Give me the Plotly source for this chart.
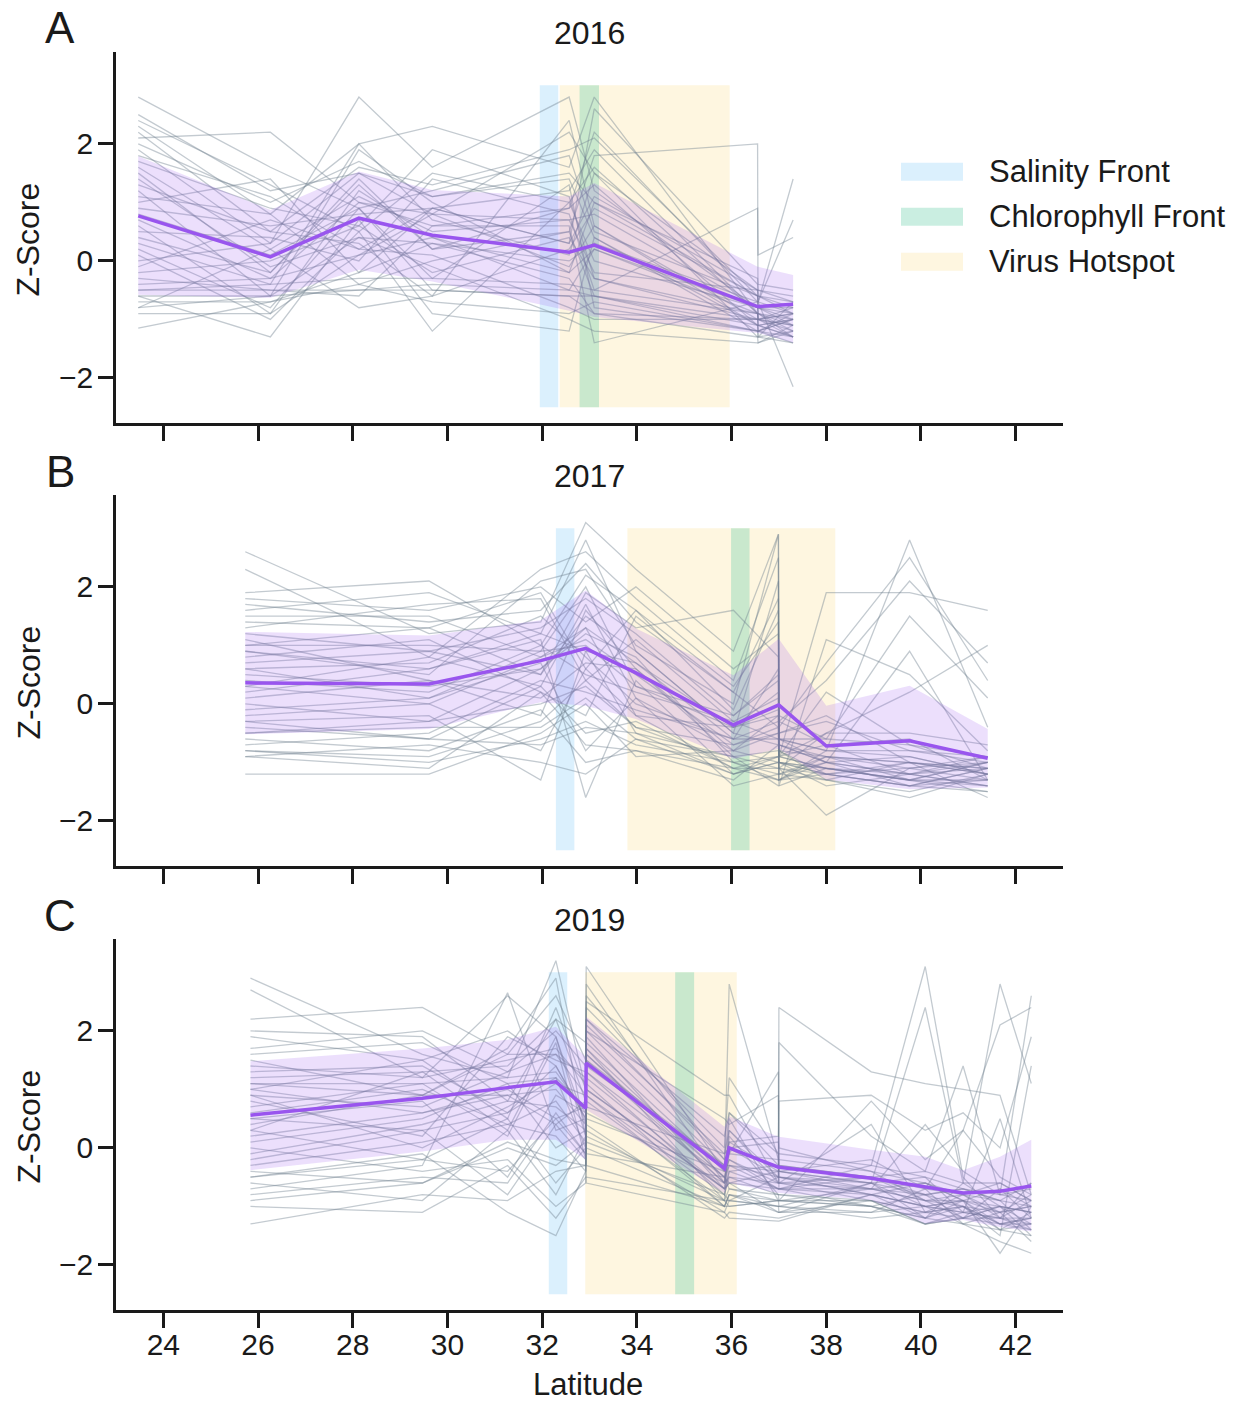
import plotly.graph_objects as go

# ---------------- data ----------------
years = ["2016", "2017", "2019"]
panel_letters = ["A", "B", "C"]

lat_2016 = [23.47, 26.26, 28.13, 29.68, 32.57, 33.10, 36.55, 36.56, 37.30]
mean_2016 = [0.77, 0.07, 0.73, 0.44, 0.15, 0.27, -0.78, -0.78, -0.74]
upper_2016 = [1.79, 0.87, 1.53, 1.21, 1.10, 1.33, -0.10, -0.10, -0.24]
lower_2016 = [-0.58, -0.63, -0.15, -0.35, -0.85, -0.96, -1.23, -1.23, -1.40]
taxa_2016 = [
    [2.8, 1.6, 0.9, 1.2, 1.8, 0.5, -0.6, -0.7, -0.9],
    [2.5, 1.2, 1.5, 0.8, 2.2, 1.5, -0.5, -0.6, -0.8],
    [2.3, 0.8, 2.0, 2.3, 1.6, 2.8, -0.9, -1.0, -1.1],
    [2.1, 2.2, 1.0, 0.6, 0.9, 2.2, -0.7, -0.8, -1.0],
    [1.9, 0.3, 2.8, 1.6, 2.8, 1.2, -0.8, -0.9, -1.2],
    [1.7, 0.9, 0.6, 1.9, 1.1, -0.3, -1.0, -1.1, -1.3],
    [1.5, -0.2, 1.4, 0.2, 0.5, 1.8, 2.0, -1.3, -0.7],
    [1.3, 0.5, 0.3, -0.6, 2.4, 0.6, -1.1, -1.2, -1.0],
    [1.2, -0.6, 1.9, 1.0, -0.2, 1.0, -0.6, -0.7, 1.4],
    [1.0, 1.4, -0.2, 0.9, 0.3, 2.6, -0.4, -0.5, -0.6],
    [0.8, 0.1, 0.9, -0.3, 1.3, -0.8, -1.2, -1.3, -1.4],
    [0.6, -0.9, 1.2, 0.4, -0.5, 0.2, -0.9, -1.0, -0.9],
    [0.5, 0.4, 0.0, 1.4, 0.8, -0.5, 0.9, 0.1, 0.4],
    [0.3, -0.4, 2.0, 0.7, 0.1, 1.5, -1.3, -1.4, -1.2],
    [0.1, -1.0, 0.5, -1.2, 1.0, 0.0, -0.8, -0.8, -1.1],
    [-0.1, 0.7, 0.2, 0.1, -0.8, -1.0, -1.0, -1.0, -0.8],
    [-0.3, -0.5, -0.6, 0.6, 0.6, -1.4, -0.7, -0.7, -2.15],
    [-0.5, -0.5, -0.5, -0.4, -0.5, -0.6, -1.1, -1.1, -1.3],
    [-0.5, -0.4, -0.3, -0.3, -0.4, -0.5, -0.9, -0.9, -1.0],
    [-0.6, -1.3, 0.7, -0.9, -1.2, 0.4, -1.2, -1.2, -1.3],
    [-0.7, -0.7, -0.2, 0.3, -0.3, -0.9, -1.0, -1.0, -0.9],
    [-0.8, 0.2, -0.8, -0.6, 0.2, 0.9, -0.6, -0.7, 0.7],
    [-0.8, -0.6, 0.4, -0.1, -1.0, -1.2, -1.4, -1.4, -1.1],
    [-0.9, -0.9, 0.1, 0.8, 0.7, -0.2, -0.5, -0.5, -0.7],
    [-1.15, -0.7, -0.4, -0.7, -0.9, -0.7, -1.2, -1.2, -1.0],
    [2.0, 1.0, 1.7, 1.1, 1.5, 1.0, -0.3, -0.4, -0.5],
    [1.6, 0.2, 1.1, 0.5, 0.7, 0.8, -0.8, -0.9, -1.1],
    [0.9, 0.6, 0.8, 0.9, 1.2, 1.9, -0.9, -1.0, -1.2],
    [0.4, -0.2, 1.3, 0.2, 0.9, 1.3, -1.1, -1.2, -0.9],
    [1.4, -0.1, 0.4, 0.3, 0.0, 0.3, -0.7, -0.8, -0.8],
    [2.2, 0.5, 1.6, 1.3, 1.9, 2.1, -0.6, -0.6, -0.9],
    [-0.2, 0.0, 0.6, -0.2, 0.4, -0.3, -0.9, -0.9, -1.3],
    [0.7, -0.3, 1.0, 0.8, -0.1, 0.6, -1.0, -1.1, -1.0],
    [1.1, 0.8, -0.4, 0.0, 0.5, -0.6, -1.2, -1.2, -1.4],
    [0.2, -0.8, 0.9, -0.5, -0.6, -0.9, -1.3, -1.3, -1.2],
    [-0.4, -0.3, 0.1, 0.4, -0.2, 0.2, -0.8, -0.8, -0.9],
    [1.8, 1.1, 0.2, 0.9, 0.3, 1.1, -0.5, -0.6, -0.7],
    [-0.6, -0.6, -0.5, -0.5, -0.6, -0.6, -1.0, -1.0, -1.1],
    [0.0, 0.3, 1.5, 1.1, 1.4, 0.4, -1.1, -1.1, -1.0],
    [2.4, 1.3, 0.5, 1.5, 1.0, 1.6, -0.9, -1.0, -1.3],
]

lat_2017 = [25.73, 29.61, 31.97, 32.92, 33.98, 36.04, 36.99, 37.00, 38.00, 39.76, 41.41]
mean_2017 = [0.36, 0.34, 0.74, 0.95, 0.53, -0.36, -0.02, -0.02, -0.72, -0.63, -0.93]
upper_2017 = [1.23, 1.17, 1.43, 1.94, 1.29, 0.49, 1.11, 1.11, -0.03, 0.31, -0.43]
lower_2017 = [-0.52, -0.43, 0.03, -0.03, -0.26, -0.94, -0.77, -0.77, -1.29, -1.46, -1.43]
taxa_2017 = [
    [2.6, 1.2, 1.4, 3.1, 2.3, 0.9, 2.9, -0.6, -0.8, 2.8, -0.4],
    [2.3, 0.8, 2.3, 2.6, 1.8, 0.4, 2.5, -0.9, 1.9, 1.9, 1.6],
    [1.9, 2.1, 1.0, 2.2, 1.6, -0.1, 1.6, -1.2, -0.9, -1.0, -1.1],
    [1.8, 1.6, 2.0, 1.4, 2.0, 0.6, 1.2, -0.3, 0.4, 2.1, 0.7],
    [1.6, 1.9, 1.2, 2.8, 0.9, -0.5, 2.1, -0.7, -1.0, -0.9, -1.2],
    [1.4, 1.3, 0.5, 1.9, 1.3, 1.6, 0.8, -1.0, -1.1, -1.3, -1.0],
    [1.3, 1.7, 1.8, 0.4, 1.1, -0.3, 0.1, -1.4, 1.1, 0.5, -0.8],
    [1.1, 0.4, -0.2, 1.6, 0.6, -0.8, -0.2, -1.1, -1.9, -1.1, -1.3],
    [1.0, 1.0, 0.9, 1.0, 0.3, -0.2, 0.4, -0.6, -0.6, 1.5, 0.1],
    [0.8, 1.1, 0.2, -0.2, 1.5, 0.2, -0.4, -0.8, -1.2, -1.4, -1.5],
    [0.6, 0.7, 1.5, 0.8, 0.0, -0.6, -0.6, -0.9, 0.2, -0.7, -1.1],
    [0.5, 0.3, 0.6, 1.2, 0.8, -1.0, -0.9, -1.0, -1.4, -1.2, -0.9],
    [0.3, 0.0, -0.8, 0.6, -0.2, -0.4, -0.1, -1.2, -1.0, 0.9, -1.3],
    [0.2, 0.6, 1.1, -1.6, 0.4, -1.2, -1.0, -1.1, -1.3, -1.5, -1.2],
    [0.0, -0.3, 0.0, 0.3, -0.4, -0.7, -0.5, -0.5, -0.2, -1.0, -1.6],
    [-0.1, 0.1, 0.7, -0.8, 0.1, -1.4, -1.2, -1.3, -0.8, -0.8, -1.0],
    [-0.3, -0.2, -1.3, 0.9, -0.5, -0.9, -0.8, -0.8, -1.3, -1.6, -1.2],
    [-0.4, -0.6, 0.3, -0.5, -0.3, -1.1, -1.1, -1.1, -0.5, 0.2, 1.0],
    [-0.5, -0.4, -0.4, 0.1, -0.6, -0.9, -1.4, -1.4, -1.1, -1.2, -1.4],
    [-0.6, -0.8, -0.1, -1.0, -0.8, -1.3, -0.7, -0.7, -0.9, -1.1, -0.9],
    [-0.7, -0.5, 0.4, 0.2, -0.1, -0.6, -0.3, -0.3, -0.7, -0.6, -1.3],
    [-0.8, -1.0, -0.6, -0.3, -0.7, -1.0, -1.3, -1.3, -1.0, -1.4, -1.1],
    [-0.9, -0.7, -1.0, -1.2, -0.6, -1.2, -0.9, -0.9, -1.1, -1.3, -1.5],
    [-1.2, -1.2, -0.5, 0.0, -0.9, -0.8, -1.0, -1.0, -1.2, -1.0, -1.2],
    [0.9, 0.5, 2.1, 2.3, 1.0, 0.0, 2.9, -0.4, 0.7, 2.5, 0.4],
    [1.5, 1.5, 0.8, 1.3, 0.7, -0.4, 0.2, -0.9, -0.5, -0.5, -0.7],
    [1.2, 0.9, 1.3, 1.8, 1.2, -0.2, 0.5, -0.8, -0.9, -1.0, -1.1],
    [0.7, 0.9, 0.5, 1.5, 0.9, -0.5, -0.7, -0.7, -1.0, -1.2, -1.0],
    [0.4, 0.2, 1.0, 0.5, 0.2, -0.3, -0.6, -0.6, -0.8, -0.9, -1.2],
    [-0.2, 0.0, 0.8, 1.1, 0.5, -0.7, -0.4, -0.9, -1.1, -1.3, -1.3],
    [1.7, 1.4, 1.6, 2.4, 1.4, 0.2, 1.8, -0.5, -0.3, -0.8, -0.9],
    [0.1, 0.4, 0.1, 0.7, 0.6, -0.9, -1.1, -1.1, -1.2, -1.1, -1.0],
    [-0.5, -0.3, 0.6, 1.3, -0.2, -1.1, -0.9, -0.9, -0.7, -1.2, -1.4],
    [0.9, 0.6, 1.2, 0.9, 0.7, -0.6, 0.6, -1.0, -1.2, -1.4, -1.1],
    [-0.8, -0.9, -0.3, 0.4, -0.4, -1.0, -1.2, -1.2, -1.3, -1.0, -1.2],
    [0.3, 0.8, 0.3, 1.7, 0.1, -0.8, -0.5, -1.3, -0.9, -1.3, -1.0],
    [1.0, 1.3, 1.9, 0.6, 1.6, 0.3, 1.4, -0.2, -0.6, -0.7, -0.9],
    [-0.3, -0.6, -0.7, -0.4, -0.5, -1.2, -1.0, -1.0, -1.1, -1.3, -1.4],
    [0.6, 0.1, 0.9, 2.0, 0.3, -0.4, -0.2, -0.6, -1.0, -1.2, -1.1],
    [-0.9, -1.1, 0.2, -0.7, -0.8, -1.1, -1.3, -1.3, -1.2, -1.4, -1.3],
]

lat_2019 = [25.84, 29.47, 31.27, 32.29, 32.92, 32.93, 35.85, 35.95, 36.99, 37.00,
            38.95, 40.09, 40.89, 41.67, 42.33]
mean_2019 = [0.56, 0.85, 1.03, 1.13, 0.68, 1.45, -0.35, 0.00, -0.33, -0.33,
             -0.52, -0.66, -0.77, -0.74, -0.65]
upper_2019 = [1.48, 1.70, 1.85, 2.07, 1.55, 2.24, 0.36, 0.54, 0.19, 0.19,
              -0.03, -0.15, -0.38, -0.15, 0.14]
lower_2019 = [-0.38, -0.06, 0.14, 0.14, -0.20, 0.65, -0.77, -0.60, -0.77, -0.77,
              -0.89, -1.29, -1.23, -1.35, -1.43]
taxa_2019 = [
    [2.9, 1.6, 1.2, 3.2, 1.0, 3.1, -0.4, 2.8, -0.2, -0.5, -0.8, -1.0, -0.9, -1.1, -1.0],
    [2.7, 1.2, 2.6, 1.9, 0.4, 2.8, -0.6, 0.3, -0.5, 2.4, 1.3, 1.1, 1.0, 0.9, -0.8],
    [2.2, 2.4, 1.6, 2.6, 1.5, 2.2, -0.2, -0.1, 1.3, -0.7, -0.3, 3.1, -0.5, -1.2, -0.9],
    [2.0, 1.9, 0.8, 2.2, 1.8, 2.5, 0.9, 0.9, -0.6, 1.8, 0.2, -0.4, 1.4, -0.8, 2.6],
    [1.9, 1.5, 2.0, 1.4, 0.5, 1.9, -0.7, 0.5, -0.9, -1.0, -0.6, 2.4, -0.6, 2.8, 1.1],
    [1.7, 2.0, 1.3, 1.6, 1.2, 1.5, -0.3, -0.3, -0.4, -0.6, -0.9, -1.1, -1.0, -1.3, -1.2],
    [1.5, 0.9, 1.7, 2.9, 0.2, 1.7, -0.9, 0.2, -0.8, -0.9, 0.8, -0.2, 0.3, 2.1, 2.4],
    [1.3, 1.4, 0.6, 1.1, 0.9, 1.3, -0.5, -0.6, -0.7, -0.7, -1.0, -1.3, -1.2, -1.0, -1.1],
    [1.1, 1.1, 0.2, 1.8, -0.2, 2.0, 0.5, 0.4, 0.9, -0.3, -0.5, -0.8, -0.7, -0.9, -1.4],
    [1.0, 0.6, 1.0, 0.5, 0.7, 0.9, -0.8, -0.4, -0.3, -0.4, -0.7, -0.9, -1.0, -1.4, -1.3],
    [0.8, 0.2, 1.9, 1.5, 1.3, 1.1, -1.0, -0.8, -1.0, -1.1, -1.1, -0.7, -1.3, -1.6, -1.8],
    [0.6, 1.0, 0.4, 0.2, -0.4, 1.6, -0.6, -0.5, -0.6, -0.6, 0.4, -1.1, -0.8, -0.6, -0.9],
    [0.5, 0.8, -0.5, 0.9, 0.6, 0.4, -1.2, -1.1, -1.2, -1.2, -0.8, -1.0, -1.1, -1.2, -0.6],
    [0.3, -0.2, 0.5, -0.6, 0.0, 0.7, -0.1, 0.0, 0.1, 0.0, -0.4, -0.6, -0.9, -1.8, -1.0],
    [0.1, 0.5, 1.1, 0.0, 0.3, -0.1, -0.5, -0.7, -0.8, -0.8, -1.0, -1.2, -0.6, -1.0, -1.1],
    [0.0, -0.4, -0.2, -1.0, -0.6, 0.2, -0.9, -0.9, -0.5, -0.5, -0.6, -0.5, -1.1, 0.5, -1.2],
    [-0.2, 0.3, -0.8, 0.4, -0.2, 1.0, -0.7, -0.6, -1.1, -1.1, -0.9, -1.3, -1.2, -1.3, -1.4],
    [-0.4, -0.6, 0.0, -0.3, 0.1, -0.3, -1.0, -1.0, -0.9, -0.9, -0.7, 0.4, -0.4, -0.8, -0.7],
    [-0.5, -0.1, -1.1, -1.5, -0.4, 0.1, -0.8, -0.9, -1.0, -1.0, -1.1, -1.0, -1.3, -1.1, -1.6],
    [-0.6, -0.9, 0.3, -0.8, 0.2, -0.6, -1.1, -1.2, -1.25, -1.25, -0.8, -1.2, -1.0, -1.5, 1.4],
    [-0.8, -0.5, -0.6, 0.6, -0.1, 0.5, -0.4, -0.2, -0.7, -0.7, -0.5, -0.9, -0.8, -1.2, -1.3],
    [-1.0, -1.1, -0.3, -1.2, -0.5, -0.5, -0.9, -1.0, -0.9, -0.9, -1.0, -0.8, -1.2, -1.0, -1.5],
    [-1.3, -0.8, -0.9, -0.4, -0.3, 0.0, -1.0, -0.8, -1.1, -1.1, -0.6, -1.2, -0.9, -1.4, -1.1],
    [1.2, 1.3, 1.4, 2.2, 0.8, 2.4, 0.0, 1.2, -0.1, -0.4, -0.2, -0.7, 0.3, -0.5, -0.8],
    [-0.7, -0.3, 2.65, 0.3, 0.5, 1.4, -0.3, 0.1, 0.2, 0.8, 0.9, 0.3, 0.6, 0.0, 1.9],
    [0.9, 0.0, 0.7, 1.2, 0.0, 0.6, -0.6, -0.3, -0.5, -0.5, -0.8, -0.6, -0.9, -0.7, -1.0],
    [1.4, 1.2, 1.5, 1.7, 1.1, 2.0, -0.3, 0.1, -0.4, -0.4, -0.6, -0.8, -0.7, -0.8, -0.9],
    [0.7, 1.1, 1.2, 1.3, 0.6, 1.6, -0.5, -0.2, -0.6, -0.6, -0.7, -0.9, -0.9, -1.0, -1.1],
    [0.2, 0.6, 0.9, 1.0, 0.4, 1.2, -0.7, -0.4, -0.7, -0.7, -0.8, -1.0, -1.1, -1.2, -1.2],
    [1.0, 1.5, 0.5, 2.4, 1.0, 2.6, -0.2, 0.6, -0.3, -0.3, -0.5, -0.7, -0.8, -0.9, -0.6],
    [-0.1, 0.4, 0.8, 0.7, 0.3, 1.3, -0.8, -0.5, -0.8, -0.8, -0.9, -1.1, -1.0, -1.3, -1.3],
    [0.4, 0.9, 1.6, 1.6, 0.9, 1.8, -0.4, 0.0, -0.5, -0.5, -0.7, -0.6, -0.8, -1.1, -1.0],
    [1.6, 1.8, 1.1, 1.2, 0.7, 1.5, -0.6, -0.1, -0.2, -0.2, -0.4, -0.9, -1.2, -0.7, -1.2],
    [-0.3, 0.1, 0.4, 0.8, 0.1, 0.8, -0.9, -0.7, -0.9, -0.9, -1.0, -1.2, -1.3, -1.4, -1.5],
    [0.9, 0.7, 1.3, 2.0, 1.4, 2.1, -0.1, 0.3, -0.6, -0.6, -0.5, -0.4, -0.6, -0.6, -0.9],
    [-0.9, -0.6, 0.1, -0.2, -0.3, 0.3, -1.1, -0.9, -1.0, -1.0, -1.2, -1.1, -1.2, -1.2, -1.4],
    [0.5, 0.3, 0.6, 1.4, 0.5, 1.7, -0.5, -0.3, -0.7, -0.7, -0.7, -0.8, -1.0, -1.1, -0.8],
    [1.1, 0.9, 0.9, 0.4, 0.8, 1.0, -0.7, -0.6, -0.4, -0.4, -0.6, -1.0, -0.9, -1.3, -1.2],
    [0.3, 1.3, 0.3, 1.9, 0.2, 2.2, 0.2, 0.6, -0.1, -0.1, -0.3, -0.5, -0.7, -0.9, -1.0],
    [-0.5, -0.2, -0.4, 0.5, -0.1, 0.9, -1.0, -0.8, -0.9, -0.9, -0.9, -1.3, -1.1, -1.0, -1.3],
]

# front / hotspot latitude spans (start, end) per year
salinity_front = [(31.95, 32.34), (32.29, 32.68), (32.14, 32.53)]
chlorophyll_front = [(32.79, 33.20), (35.99, 36.38), (34.81, 35.21)]
virus_hotspot = [(32.37, 35.96), (33.80, 38.19), (32.91, 36.11)]
band_z = (-2.5, 3.0)

legend_labels = ["Salinity Front", "Chlorophyll Front", "Virus Hotspot"]
x_ticks = [24, 26, 28, 30, 32, 34, 36, 38, 40, 42]
y_ticks = [-2, 0, 2]

# ---------------- style ----------------
FONT = "Liberation Sans, Arial, Helvetica, sans-serif"
INK = "#1a1a1a"
GRAY = "rgba(112,128,144,0.42)"
PURPLE = "rgb(153,85,238)"
PURPLE_FILL = "rgba(153,85,238,0.19)"
SAL_C = "rgba(135,206,250,0.30)"
CHL_C = "rgba(102,205,170,0.35)"
VIR_C = "rgba(250,220,130,0.25)"

W, H = 1239, 1401
L, R, T, B = 116, 176, 52, 91
PH = H - T - B
PW = W - L - R
tops_px = [52, 495, 939]
AX_H = 371


def py2paper(py):
    return (H - B - py) / PH


def px2paper(px):
    return (px - L) / PW


fig = go.Figure()

panels = [
    (lat_2016, mean_2016, upper_2016, lower_2016, taxa_2016),
    (lat_2017, mean_2017, upper_2017, lower_2017, taxa_2017),
    (lat_2019, mean_2019, upper_2019, lower_2019, taxa_2019),
]

shapes = []
annotations = []
layout_axes = {}

for i, (lat, mean, up, lo, taxa) in enumerate(panels):
    n = i + 1
    xa = "x" if n == 1 else f"x{n}"
    ya = "y" if n == 1 else f"y{n}"
    for row in taxa:
        fig.add_trace(go.Scatter(x=lat, y=row, mode="lines", xaxis=xa, yaxis=ya,
                                 line=dict(color=GRAY, width=1.3), showlegend=False,
                                 hoverinfo="skip"))
    fig.add_trace(go.Scatter(x=lat + lat[::-1], y=up + lo[::-1], mode="lines",
                             fill="toself", fillcolor=PURPLE_FILL, line=dict(width=0),
                             xaxis=xa, yaxis=ya, showlegend=False, hoverinfo="skip"))
    fig.add_trace(go.Scatter(x=lat, y=mean, mode="lines", xaxis=xa, yaxis=ya,
                             line=dict(color=PURPLE, width=3.5), showlegend=False))

    for span, col in [(salinity_front[i], SAL_C), (virus_hotspot[i], VIR_C),
                      (chlorophyll_front[i], CHL_C)]:
        shapes.append(dict(type="rect", xref=xa, yref=ya, x0=span[0], x1=span[1],
                           y0=band_z[0], y1=band_z[1], fillcolor=col,
                           line=dict(width=0), layer="below"))

    top = tops_px[i]
    bot = top + AX_H
    dom = [py2paper(bot), py2paper(top)]
    axis_common = dict(showline=True, linewidth=2.6, linecolor=INK, ticks="outside",
                       ticklen=15, tickwidth=2.6, tickcolor=INK, showgrid=False,
                       zeroline=False, tickfont=dict(family=FONT, size=30, color=INK))
    layout_axes["xaxis" if n == 1 else f"xaxis{n}"] = dict(
        domain=[0, 1], anchor=ya, range=[23, 43], tickvals=x_ticks,
        showticklabels=(n == 3), ticklabelstandoff=-9, **axis_common)
    layout_axes["yaxis" if n == 1 else f"yaxis{n}"] = dict(
        domain=dom, anchor=xa, range=[-2.77, 3.57], tickvals=y_ticks,
        ticklabelstandoff=-1, **axis_common)

    # year title
    annotations.append(dict(text=years[i], xref="paper", yref="paper", x=0.5,
                            y=py2paper(top - 19), xanchor="center", yanchor="middle",
                            showarrow=False, font=dict(family=FONT, size=32, color=INK)))
    # panel letter
    annotations.append(dict(text=panel_letters[i], xref="paper", yref="paper",
                            x=px2paper(60), y=py2paper(top - 24), xanchor="center",
                            yanchor="middle", showarrow=False,
                            font=dict(family=FONT, size=44, color=INK)))
    # y label
    annotations.append(dict(text="Z-Score", xref="paper", yref="paper",
                            x=px2paper(28), y=py2paper(top + AX_H / 2 + 2),
                            xanchor="center", yanchor="middle", textangle=-90,
                            showarrow=False, font=dict(family=FONT, size=32, color=INK)))

# x label
annotations.append(dict(text="Latitude", xref="paper", yref="paper", x=px2paper(588),
                        y=py2paper(1384), xanchor="center", yanchor="middle",
                        showarrow=False, font=dict(family=FONT, size=31, color=INK)))

# legend (drawn as swatches + labels)
for k, (lab, col) in enumerate(zip(legend_labels, [SAL_C, CHL_C, VIR_C])):
    cy = 171.7 + 45 * k
    shapes.append(dict(type="rect", xref="paper", yref="paper",
                       x0=px2paper(901), x1=px2paper(963),
                       y0=py2paper(cy + 9), y1=py2paper(cy - 9),
                       fillcolor=col, line=dict(width=0)))
    annotations.append(dict(text=lab, xref="paper", yref="paper", x=px2paper(987),
                            y=py2paper(cy), xanchor="left", yanchor="middle",
                            showarrow=False, font=dict(family=FONT, size=31, color=INK)))

fig.update_layout(
    width=W, height=H,
    margin=dict(l=L, r=R, t=T, b=B),
    paper_bgcolor="white", plot_bgcolor="white",
    showlegend=False,
    shapes=shapes, annotations=annotations,
    **layout_axes,
)

fig.write_html("out.html")
